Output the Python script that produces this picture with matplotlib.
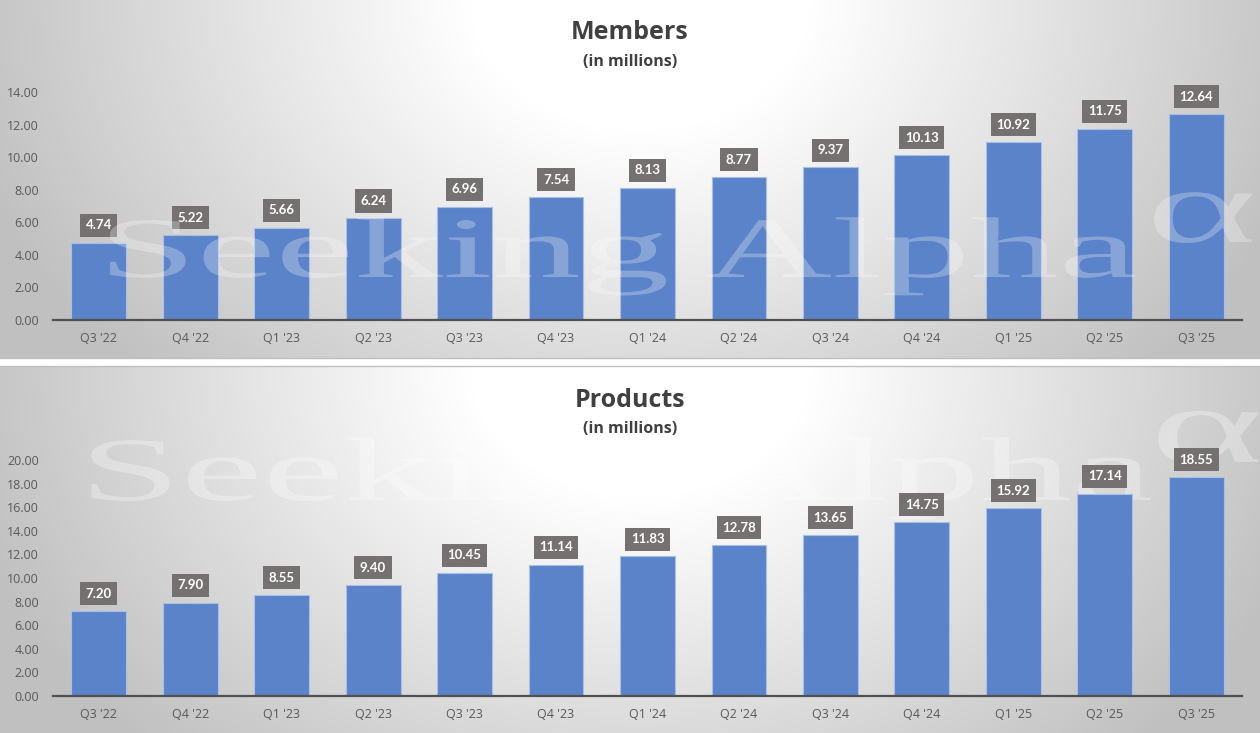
import numpy as np
import matplotlib
matplotlib.use("Agg")
import matplotlib.pyplot as plt
from matplotlib import patheffects
from matplotlib.transforms import Affine2D

quarters = ["Q3 '22", "Q4 '22", "Q1 '23", "Q2 '23", "Q3 '23", "Q4 '23", "Q1 '24",
            "Q2 '24", "Q3 '24", "Q4 '24", "Q1 '25", "Q2 '25", "Q3 '25"]
members = [4.74, 5.22, 5.66, 6.24, 6.96, 7.54, 8.13, 8.77, 9.37, 10.13, 10.92, 11.75, 12.64]
products = [7.20, 7.90, 8.55, 9.40, 10.45, 11.14, 11.83, 12.78, 13.65, 14.75, 15.92, 17.14, 18.55]
members_ticks = [0, 2, 4, 6, 8, 10, 12, 14]
products_ticks = [0, 2, 4, 6, 8, 10, 12, 14, 16, 18, 20]

W, H = 1260, 733
fig = plt.figure(figsize=(W / 100, H / 100), dpi=100)
fig.patch.set_facecolor("white")

BAR = "#5B83C9"
EDGE = "#A9BFE8"
LBL = "#767171"
TXT = "#595959"
TITLE = "#404040"


class Stretch(patheffects.AbstractPathEffect):
    def __init__(self, sx, x0):
        super().__init__()
        self.sx = sx
        self.x0 = x0

    def draw_path(self, renderer, gc, tpath, affine, rgbFace=None):
        a = affine + Affine2D().translate(-self.x0, 0).scale(self.sx, 1).translate(self.x0, 0)
        renderer.draw_path(gc, tpath, a, rgbFace)


def gradient_bg(top_px, bot_px):
    h = bot_px - top_px
    ax = fig.add_axes([0, 1 - bot_px / H, 1, h / H], zorder=0)
    yy, xx = np.mgrid[0:h, 0:W]
    cx, cy = 640.0, 0.0
    d = np.sqrt((xx - cx) ** 2 + ((yy - cy) * 1.3) ** 2)
    t = np.clip((d - 170) / 530.0, 0, 1)
    v = (255 - 63 * t) / 255.0
    img = np.dstack([v, v, v])
    ax.imshow(img, extent=[0, W, h, 0], aspect="auto", interpolation="bilinear")
    ax.set_xlim(0, W)
    ax.set_ylim(h, 0)
    ax.axis("off")
    return ax


bg_top = gradient_bg(0, 358)
bg_bot = gradient_bg(366, 733)

# separator lines
fig.add_artist(plt.Line2D([0, 1], [1 - 358.5 / H] * 2, color="#BFBFBF", lw=1.0))
fig.add_artist(plt.Line2D([0, 1], [1 - 366 / H] * 2, color="#BFBFBF", lw=1.0))


def panel(bottom_px, top_px, values, ticks, ymax, title, title_base, sub_base):
    left, right = 53, 1242
    ax = fig.add_axes([left / W, 1 - bottom_px / H, (right - left) / W, (bottom_px - top_px) / H], zorder=2)
    ax.patch.set_alpha(0)
    x = np.arange(len(values))
    ax.bar(x, values, width=0.6, color=BAR, edgecolor=EDGE, linewidth=0.8, zorder=2)
    ax.set_xlim(-0.5, len(values) - 0.5)
    ax.set_ylim(0, ymax)
    ax.set_yticks(ticks)
    ax.set_yticklabels([f"{t:.2f}" for t in ticks])
    ax.set_xticks(x)
    ax.set_xticklabels(quarters)
    for s in ["top", "right", "left"]:
        ax.spines[s].set_visible(False)
    ax.spines["bottom"].set_color("#505050")
    ax.spines["bottom"].set_linewidth(1.6)
    ax.tick_params(axis="y", length=0, pad=10, labelsize=9, labelcolor=TXT)
    ax.tick_params(axis="x", length=0, pad=9, labelsize=9, labelcolor=TXT)
    for lab in ax.get_xticklabels() + ax.get_yticklabels():
        lab.set_fontfamily("Open Sans")
    for xi, v in zip(x, values):
        ax.annotate(f"{v:.2f}", xy=(xi, v), xytext=(0, 12.5), textcoords="offset points",
                    ha="center", va="center", color="white", fontsize=9.5,
                    fontweight="bold", family="Lato", zorder=5,
                    bbox=dict(boxstyle="square,pad=0.42", fc=LBL, ec="none"))
    fig.text(630 / W, 1 - title_base / H, title, ha="center", va="baseline",
             fontsize=18, fontweight="bold", color=TITLE, family="Open Sans")
    fig.text(630 / W, 1 - sub_base / H, "(in millions)", ha="center", va="baseline",
             fontsize=11.5, fontweight="bold", color=TITLE, family="Open Sans")
    return ax


panel(320, 92, members, members_ticks, 14, "Members", 39, 66)
panel(696, 460, products, products_ticks, 20, "Products", 407, 433)

# watermarks
wm_top = fig.text(98 / W, 1 - 277 / H, "Seeking Alpha", ha="left", va="baseline",
                  fontsize=62, family="Liberation Serif", color="white", alpha=0.27, zorder=10)
wm_top.set_path_effects([Stretch(2.06, 98)])
wa_top = fig.text(1146 / W, 1 - 242 / H, "α", ha="left", va="baseline",
                  fontsize=76, family="Liberation Serif", color="white", alpha=0.27, zorder=10)
wa_top.set_path_effects([Stretch(2.0, 1146)])

wm_bot = bg_bot.text(79, 500 - 366, "Seeking Alpha", ha="left", va="baseline",
                     fontsize=65, family="Liberation Serif", color="white", alpha=0.3)
wm_bot.set_path_effects([Stretch(2.03, 79)])
wa_bot = bg_bot.text(1150, 462 - 366, "α", ha="left", va="baseline",
                     fontsize=78, family="Liberation Serif", color="white", alpha=0.3)
wa_bot.set_path_effects([Stretch(2.0, 1150)])

fig.savefig("out.png", dpi=100, facecolor="white")
